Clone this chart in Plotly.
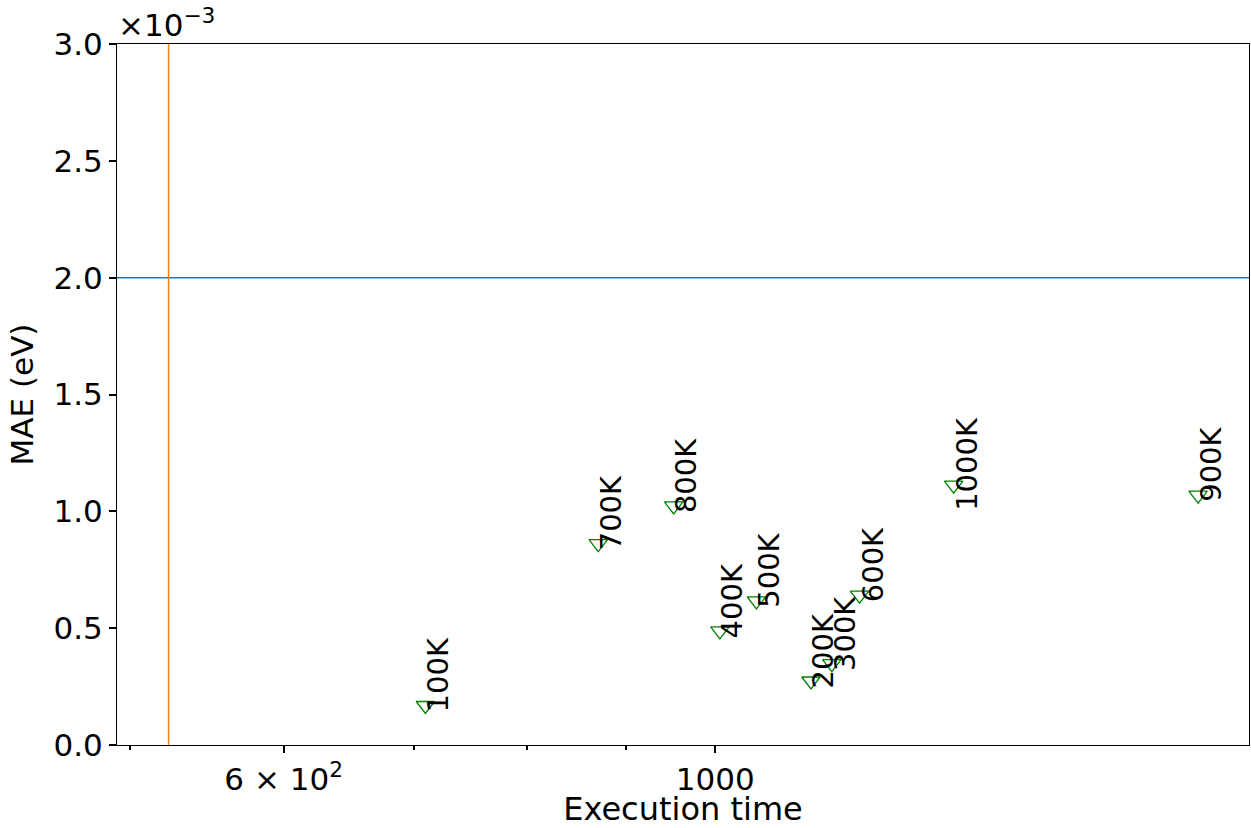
import math
import plotly.graph_objects as go

# Training-set size labels with their execution time and MAE
labels = ["100K", "200K", "300K", "400K", "500K", "600K", "700K", "800K", "900K", "1000K"]
exec_time = [709.6, 1120, 1148, 1005.6, 1050, 1186.3, 870.7, 952, 1771, 1326.1]
mae = [0.169e-3, 0.274e-3, 0.348e-3, 0.488e-3, 0.617e-3, 0.641e-3, 0.862e-3, 1.023e-3, 1.069e-3, 1.112e-3]

# Reference levels
mae_threshold = 2.0e-3
time_threshold = 523.6

# Axis settings
x_range = [492.6, 1881]
y_range = [0.0, 3.0e-3]
y_tickvals = [0.0, 0.5e-3, 1.0e-3, 1.5e-3, 2.0e-3, 2.5e-3, 3.0e-3]
y_ticktext = ["0.0", "0.5", "1.0", "1.5", "2.0", "2.5", "3.0"]
x_tickvals = [600, 1000]
x_ticktext = ["6 × 10<sup>2</sup>", "1000"]
x_minor_vals = [500, 700, 800, 900]

FONT = "DejaVu Sans"

fig = go.Figure()

fig.add_trace(go.Scatter(
    x=exec_time, y=mae, mode="markers",
    marker=dict(symbol="triangle-down-open", size=16, color="green",
                line=dict(color="green", width=1.3)),
    showlegend=False, hoverinfo="skip",
))

fig.add_hline(y=mae_threshold, line=dict(color="#1f77b4", width=1.5))
fig.add_vline(x=time_threshold, line=dict(color="#ff7f0e", width=1.5))

# Labels sit just right of each marker, reading upwards;
# the longer "1000K" label is nudged down a little further.
extra_drop = {"1000K": 19}
for lab, xv, yv in zip(labels, exec_time, mae):
    fig.add_annotation(
        x=math.log10(xv), y=yv, xref="x", yref="y", text=lab, showarrow=False,
        textangle=-90, xanchor="left", yanchor="bottom",
        borderpad=0, xshift=-5, yshift=-8 - extra_drop.get(lab, 0),
        font=dict(family=FONT, size=29, color="black"),
    )

# Scale factor shown above the y axis
fig.add_annotation(
    xref="paper", yref="paper", x=0, y=1, text="×10<sup>−3</sup>",
    showarrow=False, xanchor="left", yanchor="bottom", borderpad=0,
    font=dict(family=FONT, size=31, color="black"),
)

fig.update_xaxes(
    type="log", range=[math.log10(v) for v in x_range],
    tickvals=x_tickvals, ticktext=x_ticktext,
    ticks="outside", ticklen=7, tickwidth=2, tickcolor="black",
    minor=dict(tickvals=x_minor_vals, ticks="outside", ticklen=4, tickwidth=2, tickcolor="black"),
    showline=True, linecolor="black", linewidth=1, mirror=True,
    showgrid=False, zeroline=False,
    tickfont=dict(family=FONT, size=31, color="black"),
    title=dict(text="Execution time", font=dict(family=FONT, size=32, color="black"), standoff=4),
)
fig.update_yaxes(
    range=y_range, tickvals=y_tickvals, ticktext=y_ticktext,
    ticks="outside", ticklen=7, tickwidth=2, tickcolor="black",
    showline=True, linecolor="black", linewidth=1, mirror=True,
    showgrid=False, zeroline=False,
    tickfont=dict(family=FONT, size=31, color="black"),
    title=dict(text="MAE (eV)", font=dict(family=FONT, size=31, color="black"), standoff=10),
)

fig.update_layout(
    width=1251, height=828,
    margin=dict(l=117, r=2, t=44, b=83, autoexpand=False),
    paper_bgcolor="white", plot_bgcolor="white",
    font=dict(family=FONT, color="black"),
)

fig.write_html("out.html")
